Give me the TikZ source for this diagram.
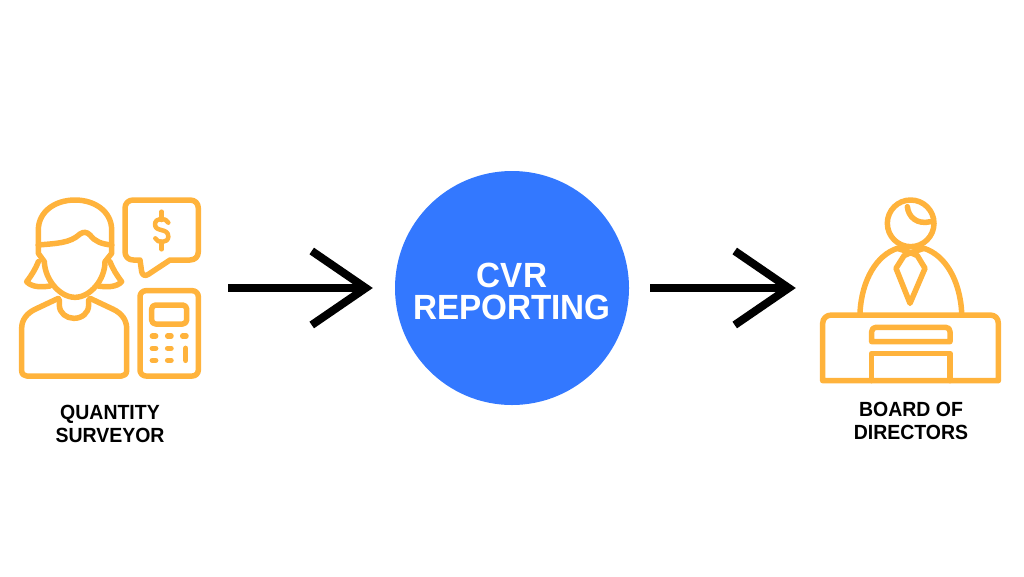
\documentclass[tikz,border=0pt]{standalone}
\usepackage{fontspec}
\setmainfont[FakeStretch=0.95]{Liberation Sans}
\usetikzlibrary{arrows.meta}
\definecolor{icon}{RGB}{255,179,60}
\definecolor{disc}{RGB}{51,120,255}
\tikzset{
  iconline/.style={draw=icon,line width=5.5pt,line join=round,line cap=round},
  flow/.style={draw=black,line width=8pt,-{Straight Barb[length=54pt,width=74pt,line width=8pt]}},
  caption/.style={font=\fontsize{20.5}{23}\selectfont\bfseries,align=center,text=black},
  box/.style={inner sep=0pt,minimum width=181pt,minimum height=181pt}
}
\begin{document}
\begin{tikzpicture}[x=1pt,y=-1pt]
\useasboundingbox (0,0) rectangle (1024,576);
\node[circle,fill=disc,minimum size=234pt,inner sep=0pt] (cvr) at (512,288) {};
\node[text=white,align=center,font=\fontsize{35}{32}\selectfont\bfseries] (cvrtext) at (512,291) {CVR\\REPORTING};
\node[box] (surveyor) at (110.5,288) {};
\node[box] (board) at (910.5,288) {};
\node[caption] (surveyortext) at (110,424) {QUANTITY\\SURVEYOR};
\node[caption] (boardtext) at (911,421) {BOARD OF\\DIRECTORS};

\path[flow,shorten <=27pt,shorten >=22pt] (surveyor) -- (cvr);
\path[flow,shorten <=21pt,shorten >=24pt] (cvr) -- (board);

\begin{scope}[shift={(0,180)},scale=1/3]
% hair
\draw[iconline] (115,195) -- (115,150) .. controls (115,95) and (165,60) .. (225,60)
  .. controls (285,60) and (335,95) .. (335,150) -- (335,195);
\draw[iconline] (115,195) .. controls (170,190) and (210,190) .. (240,162)
  .. controls (250,155) and (260,155) .. (270,165) .. controls (285,185) and (305,192) .. (335,195);
% face
\draw[iconline] (115,195) -- (115,220) -- (133,245) .. controls (135,300) and (180,352) .. (225,352)
  .. controls (270,352) and (315,300) .. (315,245) -- (335,220) -- (335,195);
% lower hair
\draw[iconline] (115,245) .. controls (105,270) and (95,285) .. (80,305)
  .. controls (95,322) and (125,322) .. (150,318);
\draw[iconline] (330,245) .. controls (340,270) and (350,285) .. (365,305)
  .. controls (350,322) and (320,322) .. (295,318);
% body
\draw[iconline] (175,355) -- (105,388) .. controls (80,400) and (65,420) .. (65,445) -- (65,572)
  .. controls (65,582) and (72,588) .. (80,588) -- (365,588)
  .. controls (373,588) and (380,582) .. (380,572) -- (380,445)
  .. controls (380,420) and (365,400) .. (340,388) -- (270,355);
\draw[iconline] (178,360) -- (178,375) .. controls (178,400) and (200,415) .. (222,415)
  .. controls (245,415) and (266,400) .. (266,375) -- (266,360);
% bubble
\draw[iconline] (400,60) -- (570,60) .. controls (585,60) and (595,70) .. (595,85) -- (595,215)
  .. controls (595,230) and (585,240) .. (570,240) -- (510,240) -- (445,283)
  .. controls (435,290) and (427,285) .. (425,275) -- (420,240) -- (400,240)
  .. controls (385,240) and (375,230) .. (375,215) -- (375,85)
  .. controls (375,70) and (385,60) .. (400,60) -- cycle;
\draw[iconline,line width=4.5pt] (485,95) -- (485,120);
\draw[iconline,line width=4.5pt] (485,185) -- (485,208);
\draw[iconline,line width=4.5pt] (505,128) .. controls (498,112) and (465,112) .. (465,133)
  .. controls (465,158) and (505,142) .. (505,170) .. controls (505,190) and (472,190) .. (466,175);
% calculator
\draw[iconline,rounded corners=6] (420,332) rectangle (595,588);
\draw[iconline,rounded corners=4] (455,375) rectangle (560,432);
\foreach \x in {457,503,548} \draw[iconline] (\x,468) -- (\x+10,468);
\foreach \x in {457,503} {
  \draw[iconline] (\x,505) -- (\x+10,505);
  \draw[iconline] (\x,541) -- (\x+10,541);
}
\draw[iconline] (557,505) -- (557,541);
\end{scope}

\begin{scope}[shift={(810,190)},scale=1/3]
% head
\draw[iconline] (302,100) circle (70);
\draw[iconline] (292,50) .. controls (295,80) and (320,105) .. (362,95);
% shoulders
\draw[iconline] (150,368) .. controls (155,270) and (200,195) .. (262,175);
\draw[iconline] (342,175) .. controls (405,195) and (450,270) .. (455,368);
% tie
\draw[iconline] (262,175) -- (302,188) -- (342,175);
\draw[iconline] (302,188) -- (282,197) -- (258,235) -- (300,340) -- (345,235) -- (322,197) -- cycle;
% desk
\draw[iconline] (38,572) -- (38,400) .. controls (38,385) and (50,375) .. (65,375) -- (540,375)
  .. controls (555,375) and (565,385) .. (565,400) -- (565,572) -- cycle;
\draw[iconline] (185,455) -- (185,425) .. controls (185,417) and (190,412) .. (198,412) -- (407,412)
  .. controls (415,412) and (420,417) .. (420,425) -- (420,455) -- cycle;
\draw[iconline] (185,572) -- (185,490) -- (420,490) -- (420,572);
\end{scope}
\end{tikzpicture}
\end{document}
